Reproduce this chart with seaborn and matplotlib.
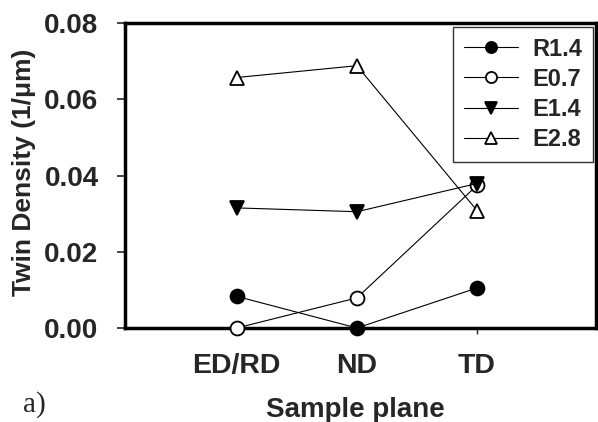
import numpy as np
import pandas as pd
import matplotlib
matplotlib.use("Agg")
import matplotlib.pyplot as plt
import seaborn as sns

# data
planes = ["ED/RD", "ND", "TD"]
r14 = [0.0083, 0.0000, 0.0105]
e07 = [0.0000, 0.0079, 0.0374]
e14 = [0.0315, 0.0305, 0.0379]
e28 = [0.0657, 0.0688, 0.0308]
series = ["R1.4", "E0.7", "E1.4", "E2.8"]

rows = []
for name, vals in zip(series, [r14, e07, e14, e28]):
    for i, v in enumerate(vals):
        rows.append({"plane": planes[i], "pos": i, "density": v, "sample": name})
df = pd.DataFrame(rows)

sns.set_style("ticks")
plt.rcParams["font.family"] = ["Liberation Sans", "DejaVu Sans"]

fig = plt.figure(figsize=(5.98, 4.22), dpi=100)
ax = fig.add_axes([125 / 598, 1 - 328 / 422, 471 / 598, 305 / 422])

# marker, face colour
styles = {"R1.4": ("o", "black"), "E0.7": ("o", "white"),
          "E1.4": ("v", "black"), "E2.8": ("^", "white")}

for name in series:
    sub = df[df["sample"] == name]
    mk, fc = styles[name]
    sns.lineplot(data=sub, x="pos", y="density", ax=ax, color="black",
                 linewidth=0.8, marker=mk, markersize=10,
                 markerfacecolor=fc, markeredgecolor="black",
                 markeredgewidth=1.3, label=name, clip_on=False, zorder=3)

ax.set_xlim(-0.93, 2.99)
ax.set_ylim(0, 0.08)
ax.set_xticks(range(len(planes)))
ax.set_xticklabels(planes)
ax.set_yticks([0, 0.02, 0.04, 0.06, 0.08])
ax.yaxis.set_major_formatter(matplotlib.ticker.FormatStrFormatter("%.2f"))

for s in ax.spines.values():
    s.set_linewidth(2.5)
    s.set_color("black")

ax.tick_params(axis="y", direction="out", length=6, width=1.2, pad=13,
               labelsize=20)
ax.tick_params(axis="x", direction="out", length=4, width=1, pad=14,
               labelsize=20.5)
for t in ax.get_xticklabels() + ax.get_yticklabels():
    t.set_fontweight("bold")

ax.set_xlabel("Sample plane", fontsize=20, fontweight="bold")
ax.set_ylabel("Twin Density (1/\u03bcm)", fontsize=19, fontweight="bold")
ax.xaxis.set_label_coords(0.49, -0.225)
ax.yaxis.set_label_coords(-0.19, 0.511)

leg = ax.legend(loc="upper right", bbox_to_anchor=(593 / 598, 1 - 27 / 422),
                bbox_transform=fig.transFigure, borderaxespad=0,
                fancybox=False, frameon=True, handlelength=2.3,
                handletextpad=0.6, labelspacing=0.3, borderpad=0.45,
                markerscale=0.8, prop={"weight": "bold", "size": 17})
leg.get_frame().set_edgecolor("black")
leg.get_frame().set_linewidth(1.0)

fig.text(23 / 598, 1 - 412 / 422, "a)", fontsize=21,
         family=["Liberation Serif", "DejaVu Serif"], va="baseline", ha="left")

fig.savefig("out.png", dpi=100, facecolor="white")
